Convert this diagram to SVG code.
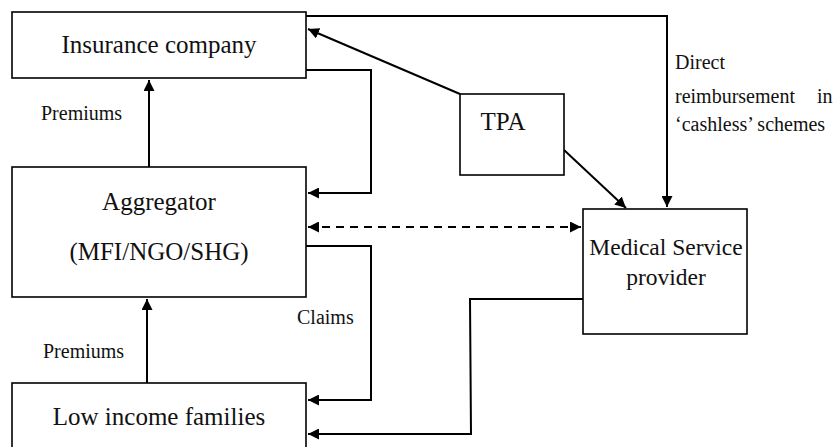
<svg xmlns="http://www.w3.org/2000/svg" width="840" height="447" viewBox="0 0 840 447">
  <style>
    .box { fill: #fff; stroke: #000; stroke-width: 1.6; }
    text { font-family: 'Liberation Serif', 'DejaVu Serif', serif; fill: #111; }
    .big { font-size: 25px; text-anchor: middle; }
    .mid { font-size: 23.5px; text-anchor: middle; }
    .small { font-size: 20px; }
    .wire { fill: none; stroke: #000; stroke-width: 2; }
    .dash { stroke-dasharray: 8 6; }
  </style>
  <defs>
    <marker id="ah" viewBox="0 0 10 10" refX="10" refY="5" markerWidth="5.5" markerHeight="5.5" orient="auto-start-reverse" markerUnits="strokeWidth">
      <path d="M0,0 L10,5 L0,10 z" fill="#000"/>
    </marker>
  </defs>

  <rect width="840" height="447" fill="#fff"/>

  <g id="connectors">
    <!-- Aggregator -> Insurance (premiums) -->
    <line class="wire" x1="149" y1="167" x2="149" y2="80" marker-end="url(#ah)"/>
    <!-- Families -> Aggregator (premiums) -->
    <line class="wire" x1="147" y1="383" x2="147" y2="299" marker-end="url(#ah)"/>
    <!-- Insurance -> Aggregator -->
    <polyline class="wire" points="306,70 371,70 371,193 308,193" marker-end="url(#ah)"/>
    <!-- Aggregator -> Families (claims) -->
    <polyline class="wire" points="306,246 371,246 371,400 308,400" marker-end="url(#ah)"/>
    <!-- Aggregator <-> Medical service provider -->
    <line class="wire dash" x1="308" y1="227" x2="581" y2="227" marker-start="url(#ah)" marker-end="url(#ah)"/>
    <!-- Medical service provider -> Families -->
    <polyline class="wire" points="583,299 470,299 471,434 308,434" marker-end="url(#ah)"/>
    <!-- TPA -> Insurance -->
    <line class="wire" x1="460" y1="94" x2="308" y2="29" marker-end="url(#ah)"/>
    <!-- TPA -> Medical service provider -->
    <line class="wire" x1="564" y1="150" x2="626" y2="208" marker-end="url(#ah)"/>
    <!-- Insurance -> Medical service provider (direct reimbursement) -->
    <polyline class="wire" points="306,16 667,16 667,207" marker-end="url(#ah)"/>
  </g>

  <g id="insurance">
    <rect class="box" x="12" y="12" width="294" height="66"/>
    <text class="big" x="159" y="53">Insurance company</text>
  </g>

  <g id="aggregator">
    <rect class="box" x="12" y="167" width="294" height="130"/>
    <text class="big" x="159" y="210">Aggregator</text>
    <text class="big" x="159" y="260">(MFI/NGO/SHG)</text>
  </g>

  <g id="families">
    <rect class="box" x="12" y="383" width="294" height="80"/>
    <text class="big" x="159" y="425">Low income families</text>
  </g>

  <g id="tpa">
    <rect class="box" x="460" y="94" width="104" height="81"/>
    <text class="big" x="503" y="130">TPA</text>
  </g>

  <g id="medical">
    <rect class="box" x="583" y="209" width="164" height="125"/>
    <text class="mid" x="666" y="255">Medical Service</text>
    <text class="mid" x="666" y="285">provider</text>
  </g>

  <g id="labels">
    <text class="small" x="41" y="120">Premiums</text>
    <text class="small" x="43" y="358">Premiums</text>
    <text class="small" x="297" y="324">Claims</text>
    <text class="small" x="675" y="69">Direct</text>
    <text class="small" x="675" y="103">reimbursement</text>
    <text class="small" x="817" y="103">in</text>
    <text class="small" x="675" y="131">‘cashless’ schemes</text>
  </g>
</svg>
